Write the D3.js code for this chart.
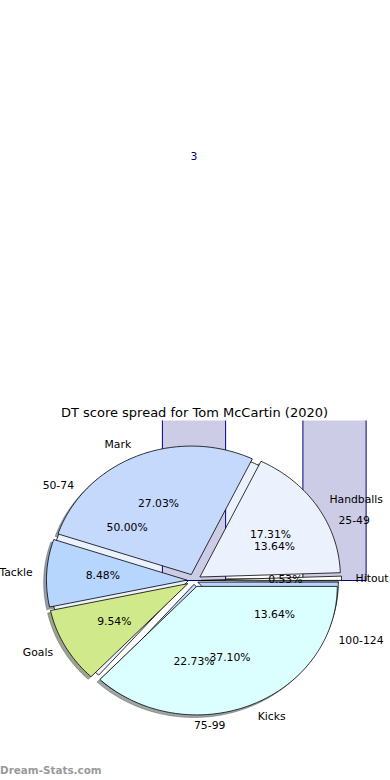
<!DOCTYPE html>
<html><head><meta charset="utf-8">
<script src="https://cdn.jsdelivr.net/npm/d3@7"></script>
<style>body{margin:0;background:#fff}svg{display:block}</style>
</head><body><svg id="c" width="390" height="780"></svg>
<script>
// ---- data ----
const statLabels = ["Hitout", "Handballs", "Mark", "Tackle", "Goals", "Kicks"];
const statValues = [0.53, 17.31, 27.03, 8.48, 9.54, 37.10];
const scoreLabels = ["25-49", "50-74", "75-99", "100-124"];
const scoreCounts = [3, 11, 5, 3];
const sliceColors = ["#ffffff", "#ebf2fe", "#c5d9fd", "#b7d6fe", "#d0ea8b", "#dbfefe"];
const chartTitle = "DT score spread for Tom McCartin (2020)";
const watermark = "Dream-Stats.com";

// ---- setup ----
const W = 390, H = 780;
const svg = d3.select("#c");
const x = d3.scaleLinear().domain([0, 1]).range([194, 334.5]);
const y = d3.scaleLinear().domain([0, 1]).range([580.5, 452]);
const FONT = "DejaVu Sans, Verdana, sans-serif";
const line = d3.line().x(d => x(d[0])).y(d => y(d[1]));

function pieLayout(values, explode) {
  const total = d3.sum(values);
  let t = 0;
  return values.map((v, i) => {
    const f = v / total;
    const t1 = t * 360, t2 = (t + f) * 360;
    t += f;
    const mid = (t1 + t2) / 2 * Math.PI / 180;
    return {i, v, pct: f * 100, t1, t2, mid,
            ox: explode * Math.cos(mid), oy: explode * Math.sin(mid)};
  });
}
function wedgePath(w, dx = 0, dy = 0) {
  const pts = [[w.ox + dx, w.oy + dy]];
  const n = Math.max(2, Math.ceil(w.t2 - w.t1));
  for (let k = 0; k <= n; k++) {
    const a = (w.t1 + (w.t2 - w.t1) * k / n) * Math.PI / 180;
    pts.push([w.ox + dx + Math.cos(a), w.oy + dy + Math.sin(a)]);
  }
  return line(pts) + "Z";
}
function shade(c) {
  const r = d3.rgb(c);
  return d3.rgb(r.r * 0.3, r.g * 0.3, r.b * 0.3).toString();
}

const stats = pieLayout(statValues, 0.05);
const scores = pieLayout(scoreCounts, 0.03);

// shadows (lowest layer)
svg.append("g").selectAll("path").data(stats).join("path")
  .attr("d", d => wedgePath(d, -0.02, -0.02))
  .attr("fill", d => shade(sliceColors[d.i])).attr("fill-opacity", 0.5)
  .attr("stroke", d => shade(sliceColors[d.i])).attr("stroke-opacity", 0.5)
  .attr("stroke-width", 0.8);

// score pie
svg.append("g").selectAll("path").data(scores).join("path")
  .attr("d", d => wedgePath(d))
  .attr("fill", d => sliceColors[d.i]).attr("stroke", "#000").attr("stroke-width", 0.8)
  .attr("stroke-linejoin", "round");

// bars (clipped to axes)
svg.append("clipPath").attr("id", "ax").append("rect")
  .attr("x", 0).attr("y", 420.5).attr("width", W).attr("height", H - 420.5);
const barW = 0.45;
svg.append("g").attr("clip-path", "url(#ax)").selectAll("rect").data(scoreCounts).join("rect")
  .attr("x", (d, i) => x(i - barW / 2)).attr("width", (d, i) => x(i + barW / 2) - x(i - barW / 2))
  .attr("y", d => y(d)).attr("height", d => y(0) - y(d))
  .attr("fill", "#ccccE6").attr("stroke", "#000080").attr("stroke-width", 1);

// stats pie
svg.append("g").selectAll("path").data(stats).join("path")
  .attr("d", d => wedgePath(d))
  .attr("fill", d => sliceColors[d.i]).attr("stroke", "#000").attr("stroke-width", 0.8)
  .attr("stroke-linejoin", "round");

// texts
function pieTexts(layout, labels) {
  const g = svg.append("g").attr("font-family", FONT).attr("font-size", 10.8).attr("fill", "#000");
  layout.forEach(w => {
    const xt = w.ox + 1.1 * Math.cos(w.mid), yt = w.oy + 1.1 * Math.sin(w.mid);
    g.append("text").attr("x", x(xt)).attr("y", y(yt))
      .attr("text-anchor", xt > -1e-6 ? "start" : "end")
      .attr("dominant-baseline", "central").text(labels[w.i]);
    const xp = w.ox + 0.6 * Math.cos(w.mid), yp = w.oy + 0.6 * Math.sin(w.mid);
    g.append("text").attr("x", x(xp)).attr("y", y(yp))
      .attr("text-anchor", "middle").attr("dominant-baseline", "central")
      .text(w.pct.toFixed(2) + "%");
  });
}
pieTexts(scores, scoreLabels);
pieTexts(stats, statLabels);

// bar value labels (only those that land inside the figure, as in the reference)
const barLabels = scoreCounts.map((d, i) => ({d, i}))
  .filter(o => x(o.i) > 10 && x(o.i) < W - 10 && y(o.d * 1.1) > 10);
svg.append("g").attr("font-family", FONT).attr("font-size", 10.8).attr("fill", "#000080")
  .selectAll("text").data(barLabels).join("text")
  .attr("x", o => x(o.i)).attr("y", o => y(o.d * 1.1))
  .attr("text-anchor", "middle").attr("dominant-baseline", "central").text(o => o.d);

// title
svg.append("text").attr("x", 194.5).attr("y", 417).attr("text-anchor", "middle")
  .attr("font-family", FONT).attr("font-size", 13).attr("fill", "#000").text(chartTitle);

// watermark
svg.append("text").attr("x", 0).attr("y", 774).attr("font-family", FONT)
  .attr("font-size", 10.4).attr("font-weight", "bold").attr("fill", "#9a9a9a").text(watermark);
</script></body></html>
